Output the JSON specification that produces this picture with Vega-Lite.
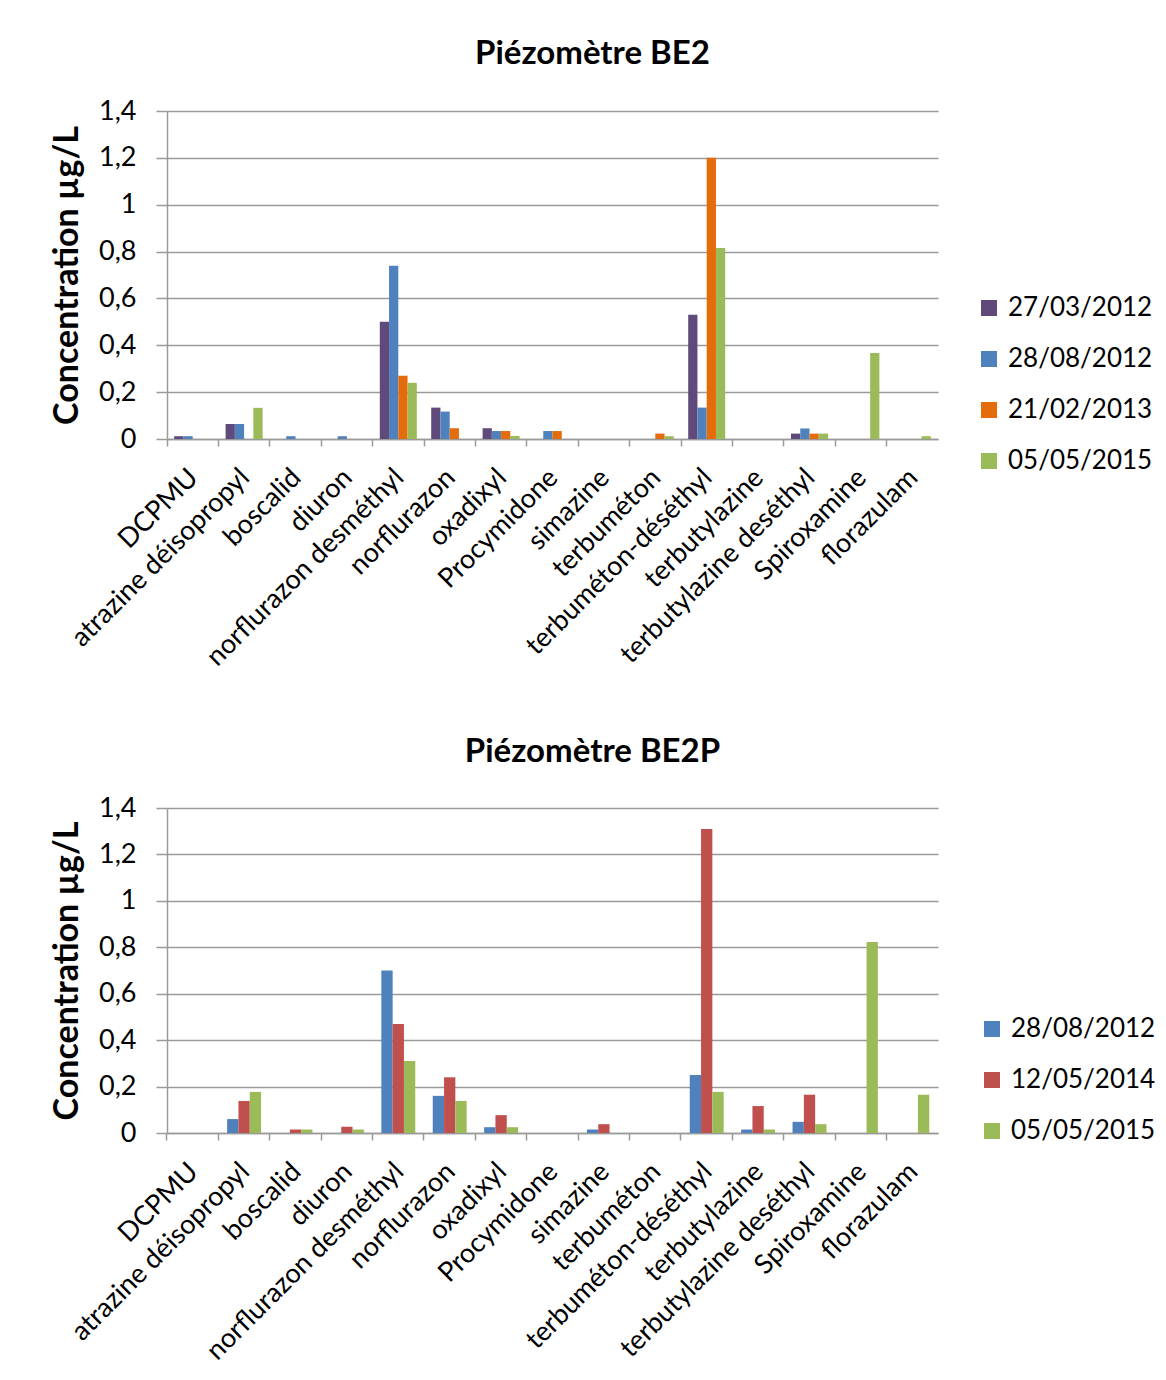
{
  "$schema": "https://vega.github.io/schema/vega-lite/v6.json",
  "background": "white",
  "padding": {"left": 50, "top": 38, "right": 0, "bottom": 0},
  "spacing": 65,
  "datasets": {
    "be2": [
      {"compound": "DCPMU", "date": "27/03/2012", "value": 0.012},
      {"compound": "DCPMU", "date": "28/08/2012", "value": 0.012},
      {"compound": "atrazine déisopropyl", "date": "27/03/2012", "value": 0.064},
      {"compound": "atrazine déisopropyl", "date": "28/08/2012", "value": 0.064},
      {"compound": "atrazine déisopropyl", "date": "05/05/2015", "value": 0.133},
      {"compound": "boscalid", "date": "28/08/2012", "value": 0.012},
      {"compound": "diuron", "date": "28/08/2012", "value": 0.012},
      {"compound": "norflurazon desméthyl", "date": "27/03/2012", "value": 0.5},
      {"compound": "norflurazon desméthyl", "date": "28/08/2012", "value": 0.74},
      {"compound": "norflurazon desméthyl", "date": "21/02/2013", "value": 0.27},
      {"compound": "norflurazon desméthyl", "date": "05/05/2015", "value": 0.24},
      {"compound": "norflurazon", "date": "27/03/2012", "value": 0.134},
      {"compound": "norflurazon", "date": "28/08/2012", "value": 0.117},
      {"compound": "norflurazon", "date": "21/02/2013", "value": 0.046},
      {"compound": "oxadixyl", "date": "27/03/2012", "value": 0.046},
      {"compound": "oxadixyl", "date": "28/08/2012", "value": 0.034},
      {"compound": "oxadixyl", "date": "21/02/2013", "value": 0.034},
      {"compound": "oxadixyl", "date": "05/05/2015", "value": 0.013},
      {"compound": "Procymidone", "date": "28/08/2012", "value": 0.034},
      {"compound": "Procymidone", "date": "21/02/2013", "value": 0.034},
      {"compound": "terbuméton", "date": "21/02/2013", "value": 0.023},
      {"compound": "terbuméton", "date": "05/05/2015", "value": 0.012},
      {"compound": "terbuméton-déséthyl", "date": "27/03/2012", "value": 0.53},
      {"compound": "terbuméton-déséthyl", "date": "28/08/2012", "value": 0.134},
      {"compound": "terbuméton-déséthyl", "date": "21/02/2013", "value": 1.2},
      {"compound": "terbuméton-déséthyl", "date": "05/05/2015", "value": 0.815},
      {"compound": "terbutylazine deséthyl", "date": "27/03/2012", "value": 0.023},
      {"compound": "terbutylazine deséthyl", "date": "28/08/2012", "value": 0.045},
      {"compound": "terbutylazine deséthyl", "date": "21/02/2013", "value": 0.023},
      {"compound": "terbutylazine deséthyl", "date": "05/05/2015", "value": 0.023},
      {"compound": "Spiroxamine", "date": "05/05/2015", "value": 0.367},
      {"compound": "florazulam", "date": "05/05/2015", "value": 0.012}
    ],
    "be2p": [
      {"compound": "atrazine déisopropyl", "date": "28/08/2012", "value": 0.06},
      {"compound": "atrazine déisopropyl", "date": "12/05/2014", "value": 0.138},
      {"compound": "atrazine déisopropyl", "date": "05/05/2015", "value": 0.177},
      {"compound": "boscalid", "date": "12/05/2014", "value": 0.015},
      {"compound": "boscalid", "date": "05/05/2015", "value": 0.015},
      {"compound": "diuron", "date": "12/05/2014", "value": 0.027},
      {"compound": "diuron", "date": "05/05/2015", "value": 0.015},
      {"compound": "norflurazon desméthyl", "date": "28/08/2012", "value": 0.7},
      {"compound": "norflurazon desméthyl", "date": "12/05/2014", "value": 0.47},
      {"compound": "norflurazon desméthyl", "date": "05/05/2015", "value": 0.31},
      {"compound": "norflurazon", "date": "28/08/2012", "value": 0.16},
      {"compound": "norflurazon", "date": "12/05/2014", "value": 0.24},
      {"compound": "norflurazon", "date": "05/05/2015", "value": 0.138},
      {"compound": "oxadixyl", "date": "28/08/2012", "value": 0.025},
      {"compound": "oxadixyl", "date": "12/05/2014", "value": 0.077},
      {"compound": "oxadixyl", "date": "05/05/2015", "value": 0.025},
      {"compound": "simazine", "date": "28/08/2012", "value": 0.015},
      {"compound": "simazine", "date": "12/05/2014", "value": 0.038},
      {"compound": "terbuméton-déséthyl", "date": "28/08/2012", "value": 0.25},
      {"compound": "terbuméton-déséthyl", "date": "12/05/2014", "value": 1.31},
      {"compound": "terbuméton-déséthyl", "date": "05/05/2015", "value": 0.177},
      {"compound": "terbutylazine", "date": "28/08/2012", "value": 0.015},
      {"compound": "terbutylazine", "date": "12/05/2014", "value": 0.116},
      {"compound": "terbutylazine", "date": "05/05/2015", "value": 0.015},
      {"compound": "terbutylazine deséthyl", "date": "28/08/2012", "value": 0.048},
      {"compound": "terbutylazine deséthyl", "date": "12/05/2014", "value": 0.165},
      {"compound": "terbutylazine deséthyl", "date": "05/05/2015", "value": 0.038},
      {"compound": "Spiroxamine", "date": "05/05/2015", "value": 0.823},
      {"compound": "florazulam", "date": "05/05/2015", "value": 0.165}
    ]
  },
  "resolve": {
    "scale": {"x": "independent", "y": "independent", "xOffset": "independent", "color": "independent"},
    "legend": {"color": "independent"}
  },
  "vconcat": [
    {
      "title": {"text": "Piézomètre BE2", "dx": 40, "offset": 26},
      "data": {"name": "be2"},
      "width": 771,
      "height": 328,
      "mark": {"type": "bar"},
      "encoding": {
        "x": {
          "field": "compound", "type": "nominal", "title": null,
          "scale": {
            "domain": ["DCPMU", "atrazine déisopropyl", "boscalid", "diuron", "norflurazon desméthyl", "norflurazon", "oxadixyl", "Procymidone", "simazine", "terbuméton", "terbuméton-déséthyl", "terbutylazine", "terbutylazine deséthyl", "Spiroxamine", "florazulam"],
            "paddingInner": 0.28, "paddingOuter": 0.14
          },
          "axis": {"bandPosition": -0.194}
        },
        "xOffset": {
          "field": "date", "type": "nominal",
          "scale": {"domain": ["27/03/2012", "28/08/2012", "21/02/2013", "05/05/2015"], "paddingInner": 0, "paddingOuter": 0}
        },
        "y": {
          "field": "value", "type": "quantitative", "title": "Concentration µg/L",
          "scale": {"domain": [0, 1.4], "nice": false},
          "axis": {"values": [0, 0.2, 0.4, 0.6, 0.8, 1, 1.2, 1.4]}
        },
        "color": {
          "field": "date", "type": "nominal",
          "scale": {"domain": ["27/03/2012", "28/08/2012", "21/02/2013", "05/05/2015"], "range": ["#604A7B", "#4F81BD", "#E46C0A", "#9BBB59"]},
          "legend": {"orient": "none", "legendX": 809, "legendY": 184}
        }
      }
    },
    {
      "title": {"text": "Piézomètre BE2P", "dx": 40, "offset": 25},
      "data": {"name": "be2p"},
      "width": 771,
      "height": 325,
      "mark": {"type": "bar"},
      "encoding": {
        "x": {
          "field": "compound", "type": "nominal", "title": null,
          "scale": {
            "domain": ["DCPMU", "atrazine déisopropyl", "boscalid", "diuron", "norflurazon desméthyl", "norflurazon", "oxadixyl", "Procymidone", "simazine", "terbuméton", "terbuméton-déséthyl", "terbutylazine", "terbutylazine deséthyl", "Spiroxamine", "florazulam"],
            "paddingInner": 0.34, "paddingOuter": 0.17
          },
          "axis": {"bandPosition": -0.258}
        },
        "xOffset": {
          "field": "date", "type": "nominal",
          "scale": {"domain": ["28/08/2012", "12/05/2014", "05/05/2015"], "paddingInner": 0, "paddingOuter": 0}
        },
        "y": {
          "field": "value", "type": "quantitative", "title": "Concentration µg/L",
          "scale": {"domain": [0, 1.4], "nice": false},
          "axis": {"values": [0, 0.2, 0.4, 0.6, 0.8, 1, 1.2, 1.4]}
        },
        "color": {
          "field": "date", "type": "nominal",
          "scale": {"domain": ["28/08/2012", "12/05/2014", "05/05/2015"], "range": ["#4F81BD", "#C0504D", "#9BBB59"]},
          "legend": {"orient": "none", "legendX": 812, "legendY": 208}
        }
      }
    }
  ],
  "config": {
    "font": "Lato",
    "view": {"stroke": null},
    "title": {"font": "Lato", "fontSize": 33, "fontWeight": "bold", "color": "#000000", "anchor": "middle"},
    "axis": {
      "labelFont": "Lato", "labelFontSize": 27, "labelColor": "#000000",
      "titleFont": "Lato", "titleFontSize": 34, "titleFontWeight": "bold", "titleColor": "#000000",
      "domainColor": "#9a9a9a", "domainWidth": 1.5, "tickColor": "#9a9a9a", "tickWidth": 1.5,
      "gridColor": "#9a9a9a", "gridWidth": 1.5
    },
    "axisY": {
      "grid": true, "tickSize": 11, "labelPadding": 20, "titlePadding": 14,
      "format": ".1~f", "labelExpr": "replace(datum.label, '.', ',')"
    },
    "axisX": {
      "grid": false, "labelAngle": -45, "tickSize": 7, "labelPadding": 18, "labelOffset": -8,
      "labelBound": false, "labelOverlap": false, "labelLimit": 0
    },
    "legend": {
      "title": null, "labelFont": "Lato", "labelFontSize": 26, "labelColor": "#000000",
      "symbolType": "square", "symbolSize": 256, "symbolStrokeWidth": 0, "symbolOpacity": 1,
      "rowPadding": 25, "labelOffset": 6, "padding": 0
    }
  }
}
